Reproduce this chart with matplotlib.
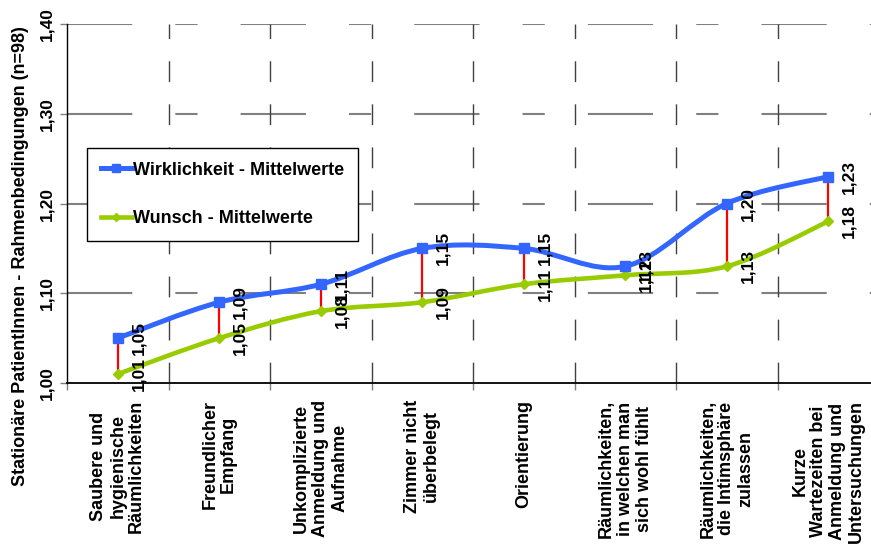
import matplotlib
matplotlib.use("AGG")
import matplotlib.pyplot as plt
from matplotlib.path import Path
from matplotlib.patches import PathPatch
from matplotlib.lines import Line2D
import numpy as np

plt.rcParams['font.family'] = ['Liberation Sans', 'DejaVu Sans']
plt.rcParams['font.weight'] = 'bold'
plt.rcParams['lines.scale_dashes'] = False

categories = [
    "Saubere und\nhygienische\nRäumlichkeiten",
    "Freundlicher\nEmpfang",
    "Unkomplizierte\nAnmeldung und\nAufnahme",
    "Zimmer nicht\nüberbelegt",
    "Orientierung",
    "Räumlichkeiten,\nin welchen man\nsich wohl fühlt",
    "Räumlichkeiten,\ndie Intimsphäre\nzulassen",
    "Kurze\nWartezeiten bei\nAnmeldung und\nUntersuchungen",
]
wirklichkeit = [1.05, 1.09, 1.11, 1.15, 1.15, 1.13, 1.20, 1.23]
wunsch = [1.01, 1.05, 1.08, 1.09, 1.11, 1.12, 1.13, 1.18]
yticks = [1.00, 1.10, 1.20, 1.30, 1.40]
ytick_labels = ["1,00", "1,10", "1,20", "1,30", "1,40"]

blue = "#3366FF"
green = "#99CC00"


def smooth_path(xs, ys):
    # Catmull-Rom style bezier through the points (like a smoothed line)
    pts = np.column_stack([xs, ys])
    verts = [pts[0]]
    codes = [Path.MOVETO]
    n = len(pts)
    for i in range(n - 1):
        p0 = pts[i - 1] if i > 0 else pts[i]
        p1 = pts[i]
        p2 = pts[i + 1]
        p3 = pts[i + 2] if i + 2 < n else pts[i + 1]
        c1 = p1 + (p2 - p0) / 6.0
        c2 = p2 - (p3 - p1) / 6.0
        verts += [c1, c2, p2]
        codes += [Path.CURVE4] * 3
    return Path(verts, codes)


fig = plt.figure(figsize=(8.71, 5.44), dpi=100)
ax = fig.add_axes([67 / 871, 161 / 544, 812 / 871, 359 / 544])

x = np.arange(len(categories)) + 0.5

# red connectors between the two series
ax.vlines(x, wunsch, wirklichkeit, color="#FF0000", lw=1.6, zorder=2)

ax.add_patch(PathPatch(smooth_path(x, wunsch), fill=False, ec=green, lw=3.3,
                       capstyle='round', zorder=3))
ax.add_patch(PathPatch(smooth_path(x, wirklichkeit), fill=False, ec=blue, lw=3.6,
                       capstyle='round', zorder=4))
ax.plot(x, wunsch, ls='none', marker='D', ms=5, color=green, zorder=5)
ax.plot(x, wirklichkeit, ls='none', marker='s', ms=7, color=blue, zorder=6)

for series in (wirklichkeit, wunsch):
    for xi, v in zip(x, series):
        ax.annotate("{:.2f}".format(v).replace(".", ","), (xi, v), xytext=(15, 0),
                    textcoords="offset points", rotation=90, ha="center",
                    va="center", fontsize=12.5, fontweight="bold", zorder=7)

ax.set_xlim(0, 8)
ax.set_ylim(1.0, 1.4)

ax.set_yticks(yticks)
ax.set_yticklabels(ytick_labels, rotation=90, va="center", fontsize=12.5)
ax.tick_params(axis="y", length=5, width=1, color="#808080", pad=4)

ax.set_xticks(x)
ax.set_xticklabels(categories, rotation=90, ha="center", va="top",
                   multialignment="center", fontsize=13, linespacing=1.15)
ax.tick_params(axis="x", which="major", length=0, pad=12)
ax.set_xticks(np.arange(0, 9), minor=True)
ax.tick_params(axis="x", which="minor", length=5, width=1, color="#808080")

# dashed grid
for yv in yticks[1:]:
    ax.axhline(yv, color="#808080", lw=1.5, dashes=(47, 31, 16, 31), zorder=1)
for xv in range(1, 9):
    ax.axvline(xv, color="#404040", lw=1.0, dashes=(15, 16), zorder=1)

for s in ["top", "right"]:
    ax.spines[s].set_visible(False)
ax.spines["left"].set_linewidth(1.0)
ax.spines["bottom"].set_linewidth(1.3)

fig.text(21 / 871, 1 - 256 / 544,
         "Stationäre PatientInnen - Rahmenbedingungen (n=98)",
         rotation=90, ha="center", va="center", fontsize=13, fontweight="bold")

handles = [
    Line2D([], [], color=blue, lw=3.6, marker="s", ms=6),
    Line2D([], [], color=green, lw=3.3, marker="D", ms=4.5),
]
leg = ax.legend(handles, ["Wirklichkeit - Mittelwerte", "Wunsch - Mittelwerte"],
                loc="upper left", bbox_to_anchor=(87 / 871, 1 - 148 / 544),
                bbox_transform=fig.transFigure, fontsize=13, frameon=True,
                fancybox=False, edgecolor="black", framealpha=1,
                handlelength=1.75, handletextpad=0.05, labelspacing=1.75,
                borderpad=0.75, borderaxespad=0, numpoints=1)
leg.get_frame().set_linewidth(1.0)
for t in leg.get_texts():
    t.set_fontweight("bold")

plt.savefig("out.png", dpi=100)
